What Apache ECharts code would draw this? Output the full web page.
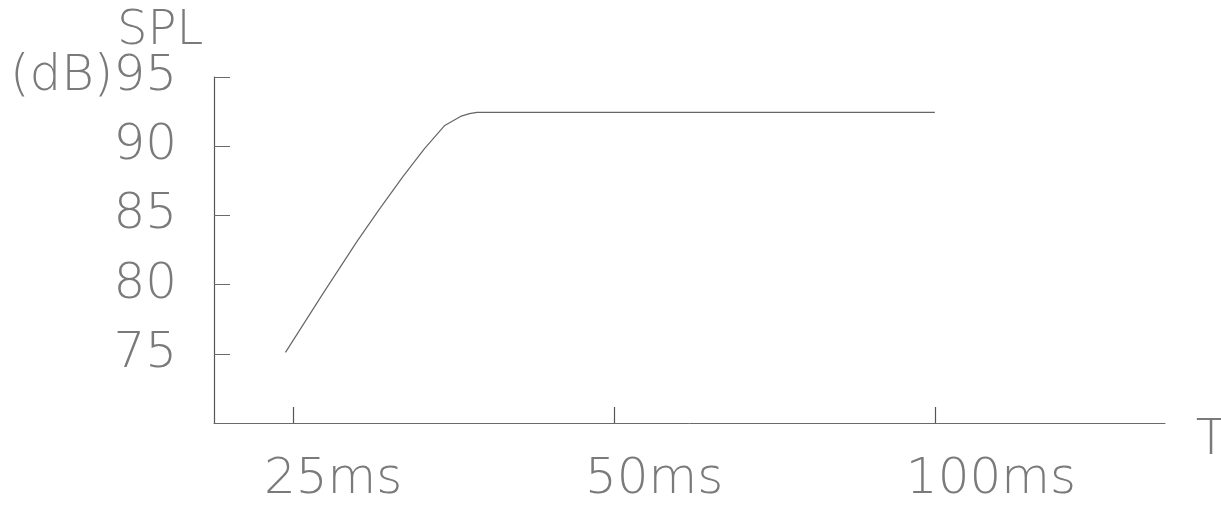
<!DOCTYPE html>
<html>
<head>
<meta charset="utf-8">
<script src="https://cdn.jsdelivr.net/npm/echarts@6/dist/echarts.min.js"></script>
<style>
html,body{margin:0;padding:0;background:#fff;}
#c{width:1221px;height:509px;}
</style>
</head>
<body>
<div id="c"></div>
<script>
// ---- data ----
const timeMs = [24.6, 26.7, 28.7, 30.1, 31.7, 33.2, 34.7, 35.9, 36.6, 37.2, 100];
const splDb  = [75.1, 79.4, 83.1, 85.4, 87.8, 89.8, 91.5, 92.15, 92.35, 92.45, 92.45];
const xTickMs = [25, 50, 100];
const xTickLabels = ['25ms', '50ms', '100ms'];
const yTicks = [75, 80, 85, 90, 95];
const yUnit = '(dB)';
const yTitle = 'SPL';
const xTitle = 'T';

// x axis is logarithmic (octaves relative to 25 ms)
const oct = ms => Math.log2(ms / 25);

const FONT = 'DejaVu Sans';
const INK = '#6a6a6a';

const chart = echarts.init(document.getElementById('c'), null, {renderer: 'canvas'});
const option = {
  animation: false,
  backgroundColor: '#fff',
  grid: {left: 214, right: 56, top: 77, bottom: 86, containLabel: false},
  xAxis: {
    type: 'value',
    min: -0.246,
    max: 2.717,
    axisLine: {show: true, onZero: false, lineStyle: {color: INK, width: 1}},
    axisTick: {show: true, inside: true, length: 16, customValues: xTickMs.map(oct), lineStyle: {color: '#555', width: 1.2}},
    axisLabel: {show: false},
    splitLine: {show: false}
  },
  yAxis: {
    type: 'value',
    min: 70,
    max: 95,
    interval: 5,
    axisLine: {show: true, onZero: false, lineStyle: {color: '#555', width: 1.2}},
    axisTick: {show: true, inside: true, length: 16, lineStyle: {color: INK, width: 1}},
    axisLabel: {
      show: true,
      margin: 37,
      showMinLabel: false,
      color: '#7a7a7a',
      fontFamily: FONT,
      fontWeight: 200,
      fontSize: 50,
      formatter: v => (yTicks.indexOf(v) < 0 ? '' : (v === 95 ? yUnit + v : String(v)))
    },
    splitLine: {show: false}
  },
  series: [{
    type: 'line',
    data: timeMs.map((t, i) => [oct(t), splDb[i]]),
    showSymbol: false,
    lineStyle: {color: '#666', width: 1.2},
    z: 3
  }]
};
chart.setOption(option);

// text titles and x tick labels positioned through the axis scale
const gfx = [];
xTickMs.forEach((ms, i) => {
  const p = chart.convertToPixel({gridIndex: 0}, [oct(ms), 70]);
  gfx.push({
    type: 'text', x: p[0] - 29, y: p[1] + 57,
    style: {text: xTickLabels[i], font: '200 50px "' + FONT + '"', fill: '#7a7a7a', textAlign: 'left', textVerticalAlign: 'middle'}
  });
});
gfx.push({type: 'text', x: 117, y: 32, style: {text: yTitle, font: '200 48px "' + FONT + '"', fill: '#7a7a7a', textAlign: 'left', textVerticalAlign: 'middle'}});
gfx.push({type: 'text', x: 1211, y: 441, style: {text: xTitle, font: '200 50px "' + FONT + '"', fill: '#7a7a7a', textAlign: 'center', textVerticalAlign: 'middle'}});
chart.setOption({graphic: gfx});
</script>
</body>
</html>
